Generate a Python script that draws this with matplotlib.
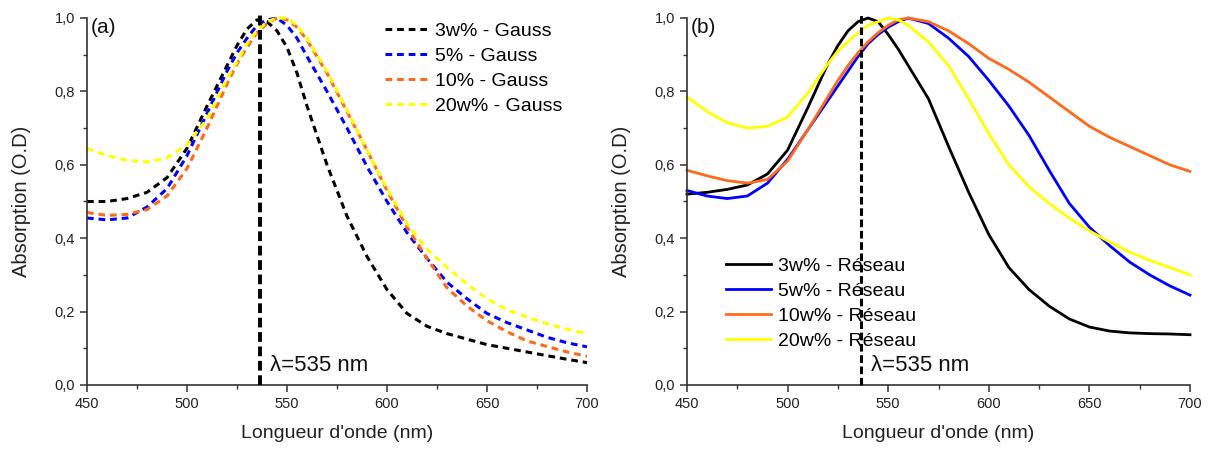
import numpy as np
import matplotlib
matplotlib.use("Agg")
import matplotlib.pyplot as plt
from matplotlib.ticker import MultipleLocator, FuncFormatter

plt.rcParams['font.family'] = ['Liberation Sans', 'DejaVu Sans']

# wavelength grid (nm), shared by both panels
wl = [450, 460, 470, 480, 490, 500, 510, 520, 525, 530, 535, 540, 545, 550, 555,
      560, 570, 580, 590, 600, 610, 620, 630, 640, 650, 660, 670, 680, 690, 700]

# (a) Gauss model
gauss_3 = [0.50, 0.50, 0.508, 0.525, 0.565, 0.645, 0.76, 0.87, 0.925, 0.97, 0.995, 0.99, 0.965, 0.92, 0.85,
           0.76, 0.60, 0.46, 0.35, 0.26, 0.195, 0.16, 0.14, 0.125, 0.11, 0.10, 0.09, 0.08, 0.07, 0.061]
gauss_5 = [0.455, 0.45, 0.455, 0.485, 0.535, 0.625, 0.74, 0.855, 0.905, 0.945, 0.98, 0.995, 1.0, 0.98, 0.945,
           0.895, 0.80, 0.70, 0.595, 0.50, 0.415, 0.345, 0.28, 0.235, 0.195, 0.17, 0.15, 0.13, 0.115, 0.104]
gauss_10 = [0.47, 0.462, 0.465, 0.478, 0.515, 0.59, 0.70, 0.82, 0.875, 0.92, 0.96, 0.985, 1.0, 0.995, 0.975,
            0.94, 0.85, 0.745, 0.64, 0.53, 0.43, 0.345, 0.265, 0.215, 0.175, 0.145, 0.12, 0.105, 0.09, 0.078]
gauss_20 = [0.645, 0.625, 0.612, 0.608, 0.618, 0.655, 0.725, 0.835, 0.88, 0.93, 0.965, 0.99, 1.0, 1.0, 0.98,
            0.945, 0.855, 0.75, 0.64, 0.535, 0.44, 0.37, 0.32, 0.275, 0.235, 0.205, 0.185, 0.167, 0.152, 0.14]

# (b) Réseau model
res_3 = [0.52, 0.525, 0.533, 0.545, 0.575, 0.64, 0.755, 0.875, 0.925, 0.965, 0.99, 1.0, 0.99, 0.955, 0.915,
         0.87, 0.78, 0.65, 0.525, 0.41, 0.32, 0.26, 0.215, 0.18, 0.158, 0.147, 0.142, 0.14, 0.139, 0.137]
res_5 = [0.53, 0.515, 0.508, 0.515, 0.55, 0.615, 0.695, 0.775, 0.815, 0.855, 0.895, 0.93, 0.955, 0.975, 0.99,
         1.0, 0.985, 0.945, 0.895, 0.83, 0.76, 0.68, 0.585, 0.495, 0.43, 0.38, 0.335, 0.30, 0.27, 0.245]
res_10 = [0.585, 0.57, 0.557, 0.55, 0.56, 0.61, 0.695, 0.785, 0.83, 0.87, 0.905, 0.935, 0.96, 0.98, 0.995,
          1.0, 0.99, 0.965, 0.93, 0.89, 0.86, 0.825, 0.785, 0.745, 0.705, 0.675, 0.65, 0.625, 0.60, 0.582]
res_20 = [0.785, 0.745, 0.715, 0.70, 0.705, 0.73, 0.795, 0.875, 0.91, 0.935, 0.96, 0.98, 0.99, 1.0, 0.995,
          0.98, 0.935, 0.87, 0.78, 0.685, 0.60, 0.54, 0.495, 0.455, 0.42, 0.39, 0.362, 0.34, 0.32, 0.30]

labels_a = ["3w% - Gauss", "5% - Gauss", "10% - Gauss", "20w% - Gauss"]
labels_b = ["3w% - Réseau", "5w% - Réseau", "10w% - Réseau", "20w% - Réseau"]
colors = ["black", "#0000ff", "#ff6a1a", "#ffff00"]
lam = 536.5

fig = plt.figure(figsize=(12.08, 4.49), dpi=100)
ax_a = fig.add_axes([87 / 1208, 64 / 449, 500 / 1208, 367 / 449])
ax_b = fig.add_axes([687 / 1208, 64 / 449, 503 / 1208, 367 / 449])

comma = FuncFormatter(lambda v, p: f"{v:.1f}".replace(".", ","))

for ys, lab, c in zip([gauss_3, gauss_5, gauss_10, gauss_20], labels_a, colors):
    ax_a.plot(wl, ys, color=c, lw=2.2, dashes=(2.2, 1.6), label=lab)
for ys, lab, c in zip([res_3, res_5, res_10, res_20], labels_b, colors):
    ax_b.plot(wl, ys, color=c, lw=2.0, label=lab)

for ax, tag in [(ax_a, "(a)"), (ax_b, "(b)")]:
    ax.axvline(lam, ymax=1.01, color="black", lw=2.8 if tag == "(a)" else 2.2, dashes=(2.5, 1.2), zorder=5)
    ax.set_xlim(450, 700)
    ax.set_ylim(0, 1.0)
    for s in ["top", "right"]:
        ax.spines[s].set_visible(False)
    for s in ["left", "bottom"]:
        ax.spines[s].set_color("#333333")
        ax.spines[s].set_linewidth(1.2)
    ax.xaxis.set_major_locator(MultipleLocator(50))
    ax.xaxis.set_minor_locator(MultipleLocator(25))
    ax.yaxis.set_major_locator(MultipleLocator(0.2))
    ax.yaxis.set_minor_locator(MultipleLocator(0.1))
    ax.yaxis.set_major_formatter(comma)
    ax.tick_params(which="major", direction="out", length=5, width=1.1, color="#333333",
                   labelsize=10.5, labelcolor="#222222")
    ax.tick_params(which="minor", direction="out", length=3, width=1.0, color="#333333")
    ax.set_xlabel("Longueur d'onde (nm)", fontsize=14, color="#222222", labelpad=10)
    ax.set_ylabel("Absorption (O.D)", fontsize=14.5, color="#222222", labelpad=17)
    ax.text(452, 0.975, tag, fontsize=15, va="center", ha="left", color="#111111")
    ax.text(541.5, 0.054, "λ=535 nm", fontsize=16, va="center", ha="left", color="#111111")
    for l in ax.get_lines():
        l.set_clip_on(False)

ax_a.legend(loc="upper left", bbox_to_anchor=(0.56, 1.035), frameon=False, fontsize=14,
            handlelength=2.3, handletextpad=0.3, labelspacing=0.37)
ax_b.legend(loc="upper left", bbox_to_anchor=(0.043, 0.395), frameon=False, fontsize=14,
            handlelength=2.3, handletextpad=0.36, labelspacing=0.37)

fig.savefig("out.png", dpi=100)
